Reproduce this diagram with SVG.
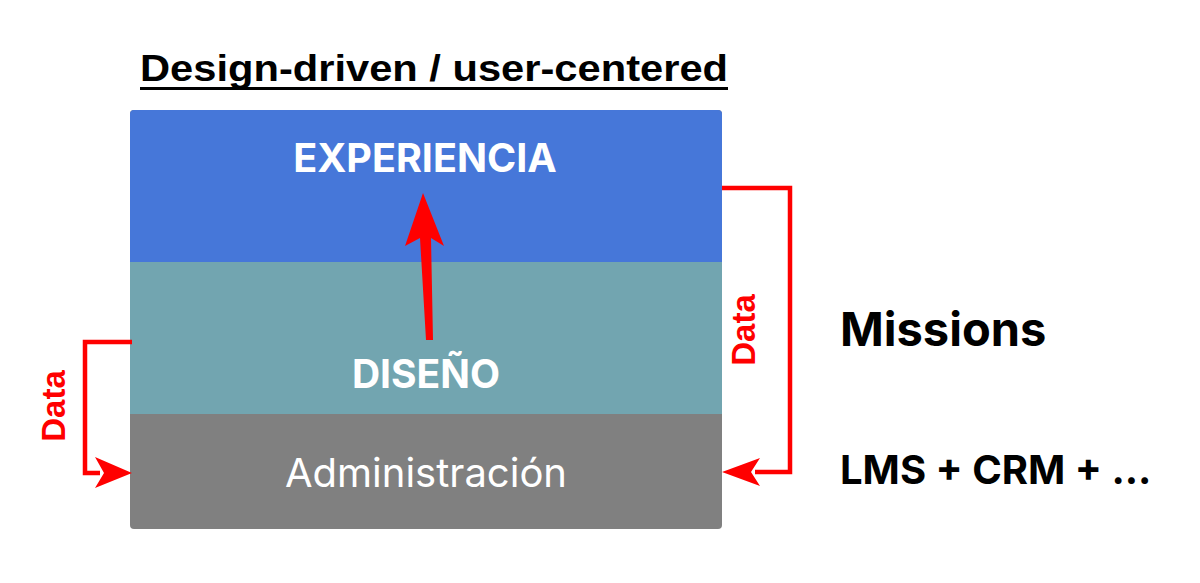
<svg xmlns="http://www.w3.org/2000/svg" width="1200" height="583" viewBox="0 0 1200 583">
<defs>
<style>
.lbl{font-family:Inter,"Liberation Sans",sans-serif;fill:#fff;text-anchor:middle}
.side{font-family:Inter,"Liberation Sans",sans-serif;font-weight:700;fill:#000}
.data{font-family:"Liberation Sans",Arial,sans-serif;font-weight:700;fill:#ff0000;font-size:33px;text-anchor:middle}
.conn{fill:none;stroke:#ff0000;stroke-width:4.5}
</style>
</defs>
<rect width="1200" height="583" fill="#fff"/>
<text x="434" y="81" font-family="'Liberation Sans',Arial,sans-serif" font-weight="700" font-size="37" text-anchor="middle" textLength="588" lengthAdjust="spacingAndGlyphs" fill="#000">Design-driven / user-centered</text>
<rect x="140" y="87" width="588" height="3" fill="#000"/>
<g id="stack">
<rect x="130" y="110" width="592" height="419" rx="4" fill="#808080"/>
<path d="M130,262 V114 a4,4 0 0 1 4,-4 H718 a4,4 0 0 1 4,4 V262 Z" fill="#4677d9"/>
<rect x="130" y="262" width="592" height="152" fill="#72a5b0"/>
</g>
<g id="experiencia"><text class="lbl" x="425" y="172" font-size="39.5" font-weight="700">EXPERIENCIA</text></g>
<g id="diseno"><text class="lbl" x="426" y="388" font-size="39" font-weight="700">DISEÑO</text></g>
<g id="administracion"><text class="lbl" x="426" y="487" font-size="40" font-weight="400">Administración</text></g>
<g id="missions"><text class="side" x="840" y="346" font-size="47">Missions</text></g>
<g id="lms"><text class="side" x="840" y="484" font-size="40">LMS + CRM + ...</text></g>
<g id="connectors">
<path d="M423,193 L405,246 L420,238 L426,340 L433,340 L431,238 L444,246 Z" fill="#ff0000"/>
<polyline class="conn" points="132,342 85,342 85,473 100,473"/>
<polygon points="132,473 95,457 104,473 95,488" fill="#ff0000"/>
<polyline class="conn" points="722,188 790,188 790,472 755,472"/>
<polygon points="722,472 760,458 751,472 760,486" fill="#ff0000"/>
<text class="data" transform="translate(65,406) rotate(-90)">Data</text>
<text class="data" transform="translate(755,330) rotate(-90)">Data</text>
</g>
</svg>
